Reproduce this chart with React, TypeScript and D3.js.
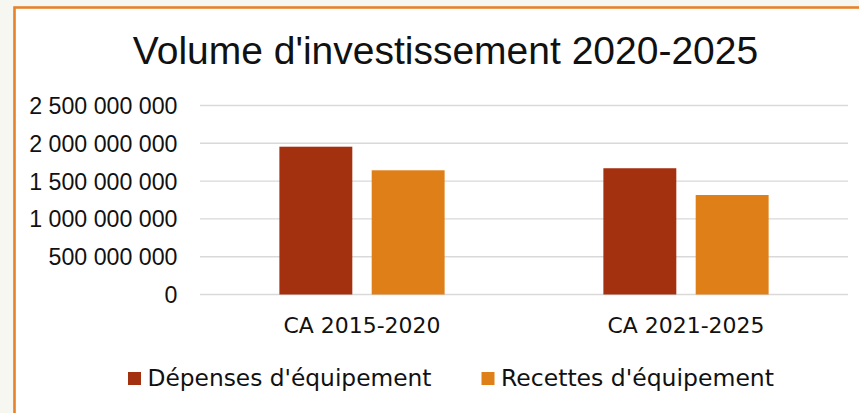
import React from "react";
import * as d3 from "d3";

const categories = ["CA 2015-2020", "CA 2021-2025"];
const seriesNames = ["Dépenses d'équipement", "Recettes d'équipement"];
const depenses = [1955000000, 1670000000];
const recettes = [1643000000, 1316000000];
const yTicks = [0, 500000000, 1000000000, 1500000000, 2000000000, 2500000000];
const title = "Volume d'investissement 2020-2025";

const colors = ["#a3300f", "#df7f18"];

const W = 859;
const H = 413;

export default function App() {
  const values = [depenses, recettes];
  const y = d3.scaleLinear().domain([0, 2500000000]).range([294.5, 105.5]);
  const x0 = d3
    .scaleBand<string>()
    .domain(categories)
    .range([200, 848])
    .paddingInner(0.49)
    .paddingOuter(0.245);
  const x1 = d3
    .scaleBand<string>()
    .domain(seriesNames)
    .range([0, x0.bandwidth()])
    .paddingInner(0.21);
  const locale = d3.formatLocale({
    decimal: ",",
    thousands: " ",
    grouping: [3],
    currency: ["", "€"],
  });
  const fmt = locale.format(",");

  const legendX = [128, 481.5];

  return (
    <svg
      width={W}
      height={H}
      style={{ position: "absolute", left: 0, top: 0, display: "block" }}
    >
      <rect x={0} y={0} width={W} height={H} fill="#f7f7f2" />
      <rect x={14.5} y={7.5} width={W + 20} height={H + 20} fill="#ffffff" stroke="#e5822a" strokeWidth={2.6} />
      <text
        x={445.5}
        y={64}
        textAnchor="middle"
        fontFamily="'Liberation Sans', Arial, sans-serif"
        fontSize={39}
        fill="#111111"
      >
        {title}
      </text>
      {yTicks.map((t) => (
        <g key={t}>
          <line x1={200} x2={848} y1={y(t)} y2={y(t)} stroke="#d9d9d9" strokeWidth={1.4} />
          <text
            x={177.5}
            y={y(t) + 8.4}
            textAnchor="end"
            fontFamily="'Liberation Sans', Arial, sans-serif"
            fontSize={23.2}
            fill="#111111"
          >
            {fmt(t)}
          </text>
        </g>
      ))}
      {categories.map((c, i) => (
        <g key={c}>
          {seriesNames.map((s, j) => (
            <rect
              key={s}
              x={(x0(c) as number) + (x1(s) as number)}
              y={y(values[j][i])}
              width={x1.bandwidth()}
              height={y(0) - y(values[j][i])}
              fill={colors[j]}
            />
          ))}
          <text
            x={(x0(c) as number) + x0.bandwidth() / 2}
            y={333}
            textAnchor="middle"
            fontFamily="'DejaVu Sans', sans-serif"
            fontSize={21.5}
            textLength={157}
            lengthAdjust="spacingAndGlyphs"
            fill="#111111"
          >
            {c}
          </text>
        </g>
      ))}
      {seriesNames.map((s, j) => (
        <g key={s}>
          <rect x={legendX[j]} y={372} width={13} height={13} fill={colors[j]} />
          <text
            x={legendX[j] + 19.5}
            y={385.5}
            fontFamily="'DejaVu Sans', sans-serif"
            fontSize={22.5}
            textLength={j === 0 ? 284 : 273}
            lengthAdjust="spacingAndGlyphs"
            fill="#111111"
          >
            {s}
          </text>
        </g>
      ))}
    </svg>
  );
}
